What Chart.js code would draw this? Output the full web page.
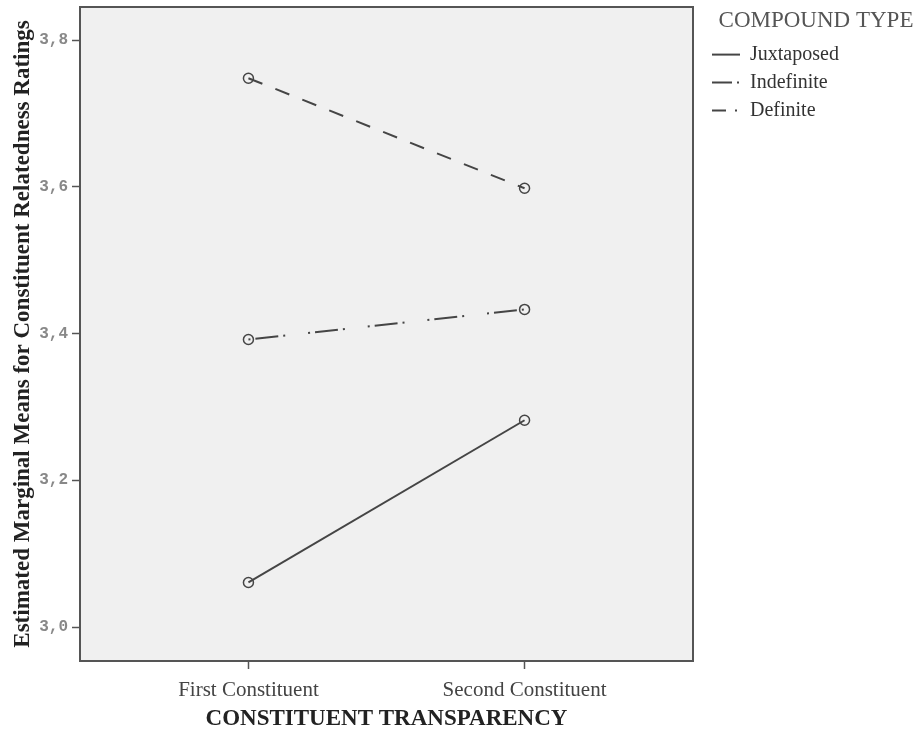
<!DOCTYPE html>
<html>
<head>
<meta charset="utf-8">
<script src="https://cdn.jsdelivr.net/npm/chart.js@4/dist/chart.umd.min.js"></script>
<style>
    body { margin: 0; background: #fff; }
</style>
</head>
<body>
<canvas id="chart" width="917" height="734"></canvas>
<script>
var categories = ['First Constituent', 'Second Constituent']
var seriesNames = ['Juxtaposed', 'Indefinite', 'Definite']
var juxtaposed = [3.061, 3.282]
var indefinite = [3.392, 3.433]
var definite = [3.748, 3.598]
var yTicks = [3.0, 3.2, 3.4, 3.6, 3.8]

var ink = '#454545'
var lineDashes = [[], [2, 5, 23, 5, 2, 23], [15, 14]]
var legendDashes = [[], [20, 5, 2, 30], [14, 9, 2, 30]]

function toPoints(values) {
    return values.map(function(v, i) { return { x: i, y: v } })
}

// gray plot panel with a frame around it
var panel = {
    id: 'panel',
    beforeDraw: function(chart) {
        var a = chart.chartArea
        var ctx = chart.ctx
        ctx.save()
        ctx.fillStyle = '#f0f0f0'
        ctx.fillRect(a.left, a.top, a.right - a.left, a.bottom - a.top)
        ctx.restore()
    },
    afterDatasetsDraw: function(chart) {
        var a = chart.chartArea
        var ctx = chart.ctx
        ctx.save()
        ctx.strokeStyle = '#555'
        ctx.lineWidth = 2
        ctx.strokeRect(a.left, a.top, a.right - a.left, a.bottom - a.top)
        ctx.restore()
    }
}

// keep the legend a fixed width so the plot ends where it should,
// and nudge its contents a little to the right
var legendWidth = {
    id: 'legendWidth',
    beforeInit: function(chart) {
        var lg = chart.legend
        if (!lg) return
        var fit = lg.fit
        lg.fit = function() {
            fit.call(this)
            this.width = 224
        }
        var draw = lg.draw
        lg.draw = function() {
            var ctx = this.ctx
            ctx.save()
            ctx.translate(11, 0)
            draw.apply(this, arguments)
            ctx.restore()
        }
    }
}

Chart.defaults.font.family = 'Liberation Serif'

function line(i, values) {
    return {
        label: seriesNames[i],
        data: toPoints(values),
        borderColor: ink,
        borderWidth: 2,
        borderDash: lineDashes[i],
        pointRadius: 5,
        pointBorderWidth: 1.5,
        pointBorderColor: ink,
        pointBackgroundColor: 'rgba(0,0,0,0)',
        pointStyle: 'circle',
        tension: 0
    }
}

new Chart(document.getElementById('chart'), {
    type: 'line',
    data: {
        datasets: [
            line(0, juxtaposed),
            line(1, indefinite),
            line(2, definite)
        ]
    },
    options: {
        responsive: false,
        animation: false,
        layout: { padding: { top: 7, left: 0, right: 0, bottom: 0 } },
        plugins: {
            tooltip: { enabled: false },
            legend: {
                position: 'right',
                align: 'start',
                title: {
                    display: true,
                    text: 'COMPOUND TYPE',
                    position: 'center',
                    color: '#555',
                    font: { size: 23 },
                    padding: { top: 2, bottom: 0 }
                },
                labels: {
                    usePointStyle: true,
                    pointStyle: 'line',
                    pointStyleWidth: 28,
                    boxHeight: 14,
                    color: '#333',
                    font: { size: 20 },
                    padding: 8,
                    generateLabels: function(chart) {
                        var items = Chart.defaults.plugins.legend.labels.generateLabels(chart)
                        items.forEach(function(it, i) {
                            it.lineDash = legendDashes[i]
                            it.strokeStyle = ink
                            it.lineWidth = 2
                        })
                        return items
                    }
                }
            }
        },
        scales: {
            x: {
                type: 'linear',
                min: -0.61,
                max: 1.61,
                afterBuildTicks: function(scale) {
                    scale.ticks = categories.map(function(c, i) { return { value: i } })
                },
                afterFit: function(scale) {
                    scale.height = 73
                    scale.paddingLeft = 0
                    scale.paddingRight = 0
                },
                ticks: {
                    callback: function(v) { return categories[v] },
                    color: '#444',
                    font: { size: 21 },
                    padding: 9,
                    maxRotation: 0
                },
                grid: { drawOnChartArea: false, drawTicks: true, tickLength: 8, color: '#555', tickWidth: 1.5 },
                border: { display: true, color: '#555', width: 2 },
                title: {
                    display: true,
                    text: 'CONSTITUENT TRANSPARENCY',
                    color: '#222',
                    font: { size: 23, weight: 'bold' },
                    padding: { top: 0, bottom: 1 }
                }
            },
            y: {
                min: 2.954,
                max: 3.845,
                afterBuildTicks: function(scale) {
                    scale.ticks = yTicks.map(function(v) { return { value: v } })
                },
                afterFit: function(scale) {
                    scale.width = 80
                    scale.paddingTop = 0
                    scale.paddingBottom = 0
                },
                ticks: {
                    callback: function(v) { return v.toFixed(1).replace('.', ',') },
                    color: '#888',
                    font: { family: 'Liberation Mono', size: 16, weight: 'bold' },
                    padding: 4
                },
                grid: { drawOnChartArea: false, drawTicks: true, tickLength: 8, color: '#555', tickWidth: 1.5 },
                border: { display: true, color: '#555', width: 2 },
                title: {
                    display: true,
                    text: 'Estimated Marginal Means for Constituent Relatedness Ratings',
                    color: '#222',
                    font: { size: 23, weight: 'bold' },
                    padding: { top: 9, bottom: 0 }
                }
            }
        }
    },
    plugins: [panel, legendWidth]
})
</script>
</body>
</html>
